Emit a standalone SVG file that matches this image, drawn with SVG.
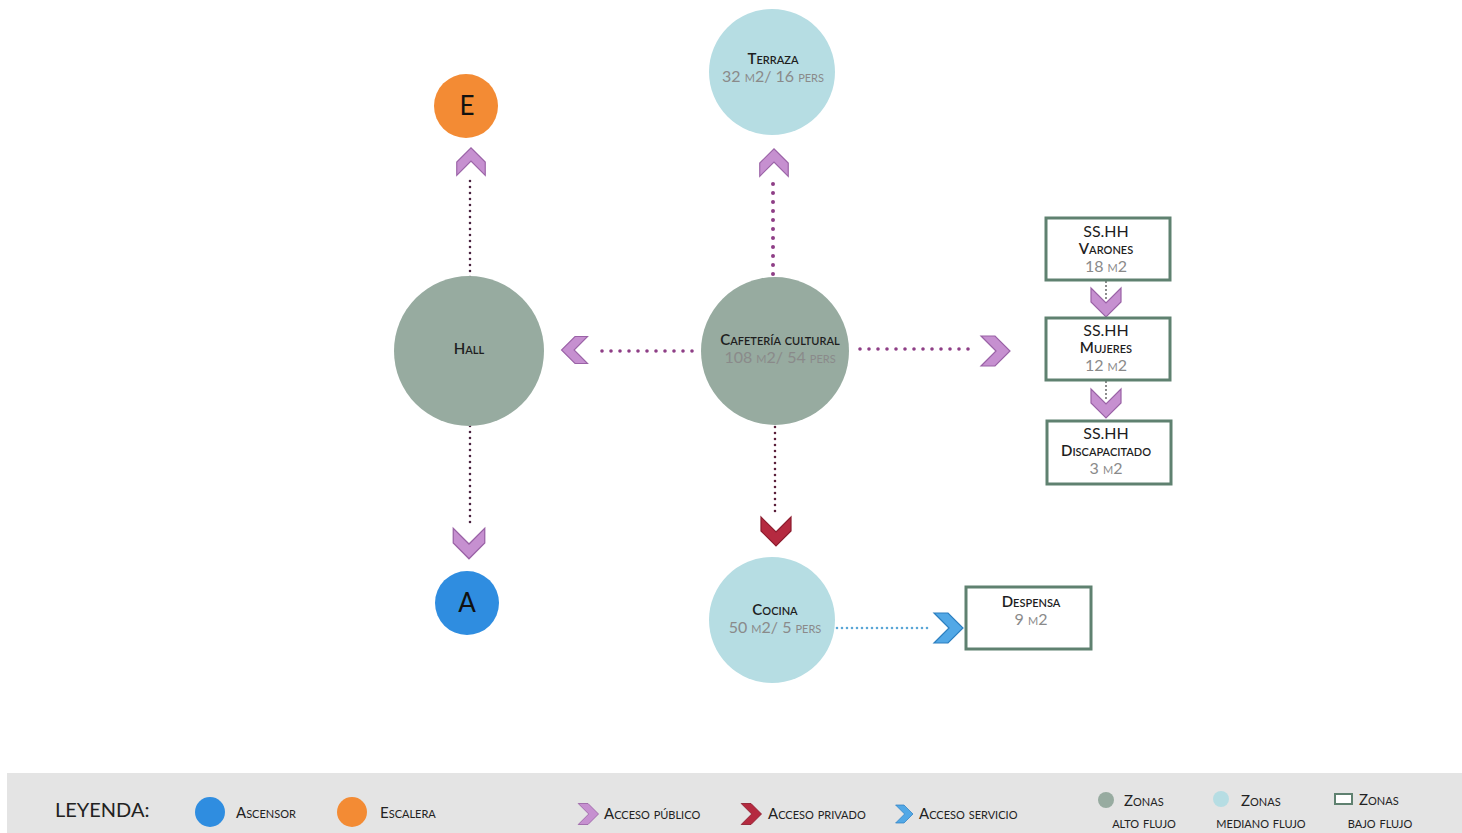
<svg xmlns="http://www.w3.org/2000/svg" width="1462" height="833" viewBox="0 0 1462 833">
<style>
text{font-family:Lato,"Open Sans","Liberation Sans",sans-serif;text-anchor:middle}
.t{font-size:15px;fill:#1e1e1e;font-variant:small-caps;font-weight:600}
.s{font-size:16px;fill:#8a8a8a;font-variant:small-caps}
.h{font-size:16px;fill:#1e1e1e}
.b{fill:#fff;stroke:#5f8170;stroke-width:3}
.hi{fill:#97aba0}
.mi{fill:#b6dde3}
.pu{fill:#c690d0;stroke:#9a62a6;stroke-width:1.2}
.re{fill:#b52a40;stroke:#8c1c2e;stroke-width:1.2}
.bl{fill:#52a8e6;stroke:#2c7fc0;stroke-width:1.2}
.d{fill:none;stroke-linecap:round}
.lg{font-size:15px;fill:#222;font-variant:small-caps;text-anchor:start}
.lz{font-size:15px;fill:#222;font-variant:small-caps}
</style>
<defs>
<path id="chev" d="M-14,-15 L0,-15 L15,0 L0,15 L-14,15 L1,0 Z"/>
</defs>
<rect width="1462" height="833" fill="#fff"/>

<g id="connectors">
<line class="d" x1="470" y1="277" x2="470" y2="180" stroke="#4a2340" stroke-width="2.6" stroke-dasharray="0 6"/>
<line class="d" x1="470" y1="426" x2="470" y2="526" stroke="#4a2340" stroke-width="2.6" stroke-dasharray="0 6"/>
<line class="d" x1="773" y1="274" x2="773" y2="181" stroke="#8e3e86" stroke-width="4" stroke-dasharray="0 9"/>
<line class="d" x1="692" y1="351" x2="593" y2="351" stroke="#8e3e86" stroke-width="3.6" stroke-dasharray="0 9"/>
<line class="d" x1="860" y1="349" x2="977" y2="349" stroke="#8e3e86" stroke-width="3.6" stroke-dasharray="0 9"/>
<line class="d" x1="775" y1="427" x2="775" y2="516" stroke="#5a1f3a" stroke-width="2.6" stroke-dasharray="0 6"/>
<line class="d" x1="837" y1="628" x2="932" y2="628" stroke="#5aa6d6" stroke-width="2.6" stroke-dasharray="0 5"/>
<line class="d" x1="1106" y1="282" x2="1106" y2="300" stroke="#666" stroke-width="2" stroke-dasharray="0 4"/>
<line class="d" x1="1106" y1="382" x2="1106" y2="402" stroke="#666" stroke-width="2" stroke-dasharray="0 4"/>
<use href="#chev" class="pu" transform="translate(471,162) rotate(-90) scale(0.95)"/>
<use href="#chev" class="pu" transform="translate(469,543) rotate(90) scale(1.05)"/>
<use href="#chev" class="pu" transform="translate(774,163) rotate(-90) scale(0.95)"/>
<use href="#chev" class="pu" transform="translate(575,350) rotate(180) scale(0.9)"/>
<use href="#chev" class="pu" transform="translate(995,351)"/>
<use href="#chev" class="re" transform="translate(776,531) rotate(90)"/>
<use href="#chev" class="bl" transform="translate(948,628)"/>
<use href="#chev" class="pu" transform="translate(1106,302) rotate(90)"/>
<use href="#chev" class="pu" transform="translate(1106,403) rotate(90)"/>
</g>

<g id="terraza">
<circle cx="772" cy="72" r="63" class="mi"/>
<text x="773" y="64" class="t">Terraza</text>
<text x="773" y="82" class="s">32 m2/ 16 pers</text>
</g>
<g id="escalera">
<circle cx="466" cy="106" r="32" fill="#f38b34"/>
<text x="467" y="115" font-size="26" fill="#111">E</text>
</g>
<g id="hall">
<circle cx="469" cy="351" r="75" class="hi"/>
<text x="469" y="354" class="t">Hall</text>
</g>
<g id="cafeteria">
<circle cx="775" cy="351" r="74" class="hi"/>
<text x="780" y="345" class="t">Cafetería cultural</text>
<text x="780" y="363" class="s">108 m2/ 54 pers</text>
</g>
<g id="ascensor">
<circle cx="467" cy="603" r="32" fill="#2f8de0"/>
<text x="467" y="612" font-size="26" fill="#111">A</text>
</g>
<g id="cocina">
<circle cx="772" cy="620" r="63" class="mi"/>
<text x="775" y="615" class="t">Cocina</text>
<text x="775" y="633" class="s">50 m2/ 5 pers</text>
</g>
<g id="varones">
<rect x="1046" y="218" width="124" height="62" class="b"/>
<text x="1106" y="237" class="h">SS.HH</text>
<text x="1106" y="254" class="t">Varones</text>
<text x="1106" y="272" class="s">18 m2</text>
</g>
<g id="mujeres">
<rect x="1046" y="318" width="124" height="62" class="b"/>
<text x="1106" y="336" class="h">SS.HH</text>
<text x="1106" y="353" class="t">Mujeres</text>
<text x="1106" y="371" class="s">12 m2</text>
</g>
<g id="discapacitado">
<rect x="1047" y="421" width="124" height="63" class="b"/>
<text x="1106" y="439" class="h">SS.HH</text>
<text x="1106" y="456" class="t">Discapacitado</text>
<text x="1106" y="474" class="s">3 m2</text>
</g>
<g id="despensa">
<rect x="966" y="587" width="125" height="62" class="b"/>
<text x="1031" y="607" class="t">Despensa</text>
<text x="1031" y="625" class="s">9 m2</text>
</g>

<g id="legend">
<rect x="7" y="773" width="1455" height="60" fill="#e4e4e4"/>
<text x="55" y="817" font-size="20" fill="#222" style="text-anchor:start">LEYENDA:</text>
<circle cx="210" cy="812" r="15" fill="#2f8de0"/>
<text x="236" y="818" class="lg">Ascensor</text>
<circle cx="352" cy="812" r="15" fill="#f38b34"/>
<text x="380" y="818" class="lg">Escalera</text>
<use href="#chev" class="pu" transform="translate(588,814) scale(0.7)"/>
<text x="604" y="819" class="lg">Acceso público</text>
<use href="#chev" class="re" transform="translate(751,814) scale(0.7)"/>
<text x="768" y="819" class="lg">Acceso privado</text>
<use href="#chev" class="bl" transform="translate(904,814) scale(0.6)"/>
<text x="919" y="819" class="lg">Acceso servicio</text>
<circle cx="1106" cy="800" r="8" class="hi"/>
<text x="1124" y="806" class="lg">Zonas</text>
<text x="1144" y="828" class="lz">alto flujo</text>
<circle cx="1221" cy="799" r="8" class="mi"/>
<text x="1241" y="806" class="lg">Zonas</text>
<text x="1261" y="828" class="lz">mediano flujo</text>
<rect x="1335" y="794" width="17" height="10" fill="#fff" stroke="#5f8170" stroke-width="2"/>
<text x="1359" y="805" class="lg">Zonas</text>
<text x="1380" y="828" class="lz">bajo flujo</text>
</g>
</svg>
